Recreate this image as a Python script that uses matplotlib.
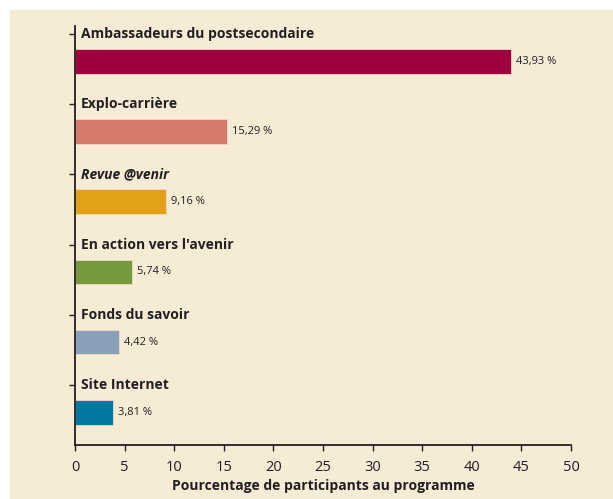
import matplotlib.pyplot as plt
from matplotlib.patches import Rectangle

categories = ['Ambassadeurs du postsecondaire', 'Explo-carrière', 'Revue @venir',
              'En action vers l\'avenir', 'Fonds du savoir', 'Site Internet']
values = [43.93, 15.29, 9.16, 5.74, 4.42, 3.81]
value_labels = ['43,93 %', '15,29 %', '9,16 %', '5,74 %', '4,42 %', '3,81 %']
colors = ['#A0003D', '#D67A6A', '#E2A218', '#759A3C', '#8AA0B8', '#0077A0']
italic = [False, False, True, False, False, False]

bg = '#F6EBD5'
ink = '#231F20'
plt.rcParams['font.family'] = ['Open Sans', 'DejaVu Sans']

fig = plt.figure(figsize=(6.13, 4.99), dpi=100, facecolor='white')
fig.patches.append(Rectangle((10 / 613, 0), 1 - 10 / 613, 1 - 10 / 499,
                             transform=fig.transFigure, facecolor=bg,
                             edgecolor='none', zorder=-10))
ax = fig.add_axes([75 / 613, 54 / 499, 496 / 613, 419 / 499])
ax.set_facecolor('none')

pos = list(range(len(categories)))
bar_pos = [p + 0.39 for p in pos]
ax.barh(bar_pos, values, height=0.35, color=colors, edgecolor='#F2D9C8', linewidth=0.6)

for p, v, lab in zip(bar_pos, values, value_labels):
    ax.text(v + 0.5, p, lab, va='center', ha='left', fontsize=8, color=ink)

for p, name, it in zip(pos, categories, italic):
    ax.text(0.6, p, name, va='center', ha='left', fontsize=10, fontweight='bold',
            style='italic' if it else 'normal', color=ink)

ax.set_xlim(0, 50)
ax.set_ylim(5.857, -0.114)
ax.set_xticks(range(0, 51, 5))
ax.set_yticks(pos)
ax.set_yticklabels([])
ax.tick_params(axis='y', length=4, width=1, color=ink)
ax.tick_params(axis='x', length=4, width=1, color=ink, labelsize=10.5, labelcolor=ink, pad=7)
for s in ['top', 'right']:
    ax.spines[s].set_visible(False)
for s in ['left', 'bottom']:
    ax.spines[s].set_color(ink)
    ax.spines[s].set_linewidth(1.3)
ax.set_xlabel('Pourcentage de participants au programme', fontsize=10,
              fontweight='bold', color=ink, labelpad=3)

fig.savefig('out.png', dpi=100)
